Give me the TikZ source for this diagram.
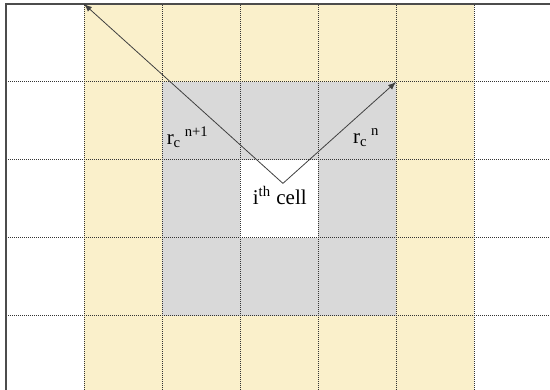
\documentclass[tikz,border=0pt]{standalone}
\usepackage{fontspec}
\setmainfont{Liberation Serif}
\usepackage{xcolor}
\definecolor{cream}{HTML}{FAF0CB}
\definecolor{cellgray}{HTML}{D9D9D9}

\begin{document}
\begin{tikzpicture}[x=39pt,y=39pt,>=latex,font=\fontsize{10.5}{12}\selectfont]
  \useasboundingbox (-0.077,0.064) rectangle (6.974,5.051);
  % cells
  \fill[cream] (1,0) rectangle (6,5);
  \fill[cellgray] (2,1) rectangle (5,4);
  \fill[white] (3,2) rectangle (4,3);
  % grid
  \foreach \i in {1,...,6}
    \draw[line width=0.5pt,dash pattern=on 0.5pt off 0.5pt,black!80] (\i,0)--(\i,5);
  \foreach \j in {1,...,4}
    \draw[line width=0.5pt,dash pattern=on 0.5pt off 0.5pt,black!80] (0,\j)--(7,\j);
  \draw[line width=0.9pt,black!70] (0,0)--(0,5)--(7,5);
  % radii
  \coordinate (O) at (3.55,2.70);
  \coordinate (P) at (1,5);
  \coordinate (Q) at (5,4);
  \draw[->,black!75,line width=0.4pt] (O)--(P);
  \draw[->,black!75,line width=0.4pt] (O)--(Q);
  \node (rnew) at (2.33,3.29) {r\textsubscript{c}\,\textsuperscript{n+1}};
  \node (rold) at (4.62,3.29) {r\textsubscript{c}\,\textsuperscript{n}};
  \node (cell) at (3.51,2.55) {i\textsuperscript{th} cell};
\end{tikzpicture}
\end{document}
